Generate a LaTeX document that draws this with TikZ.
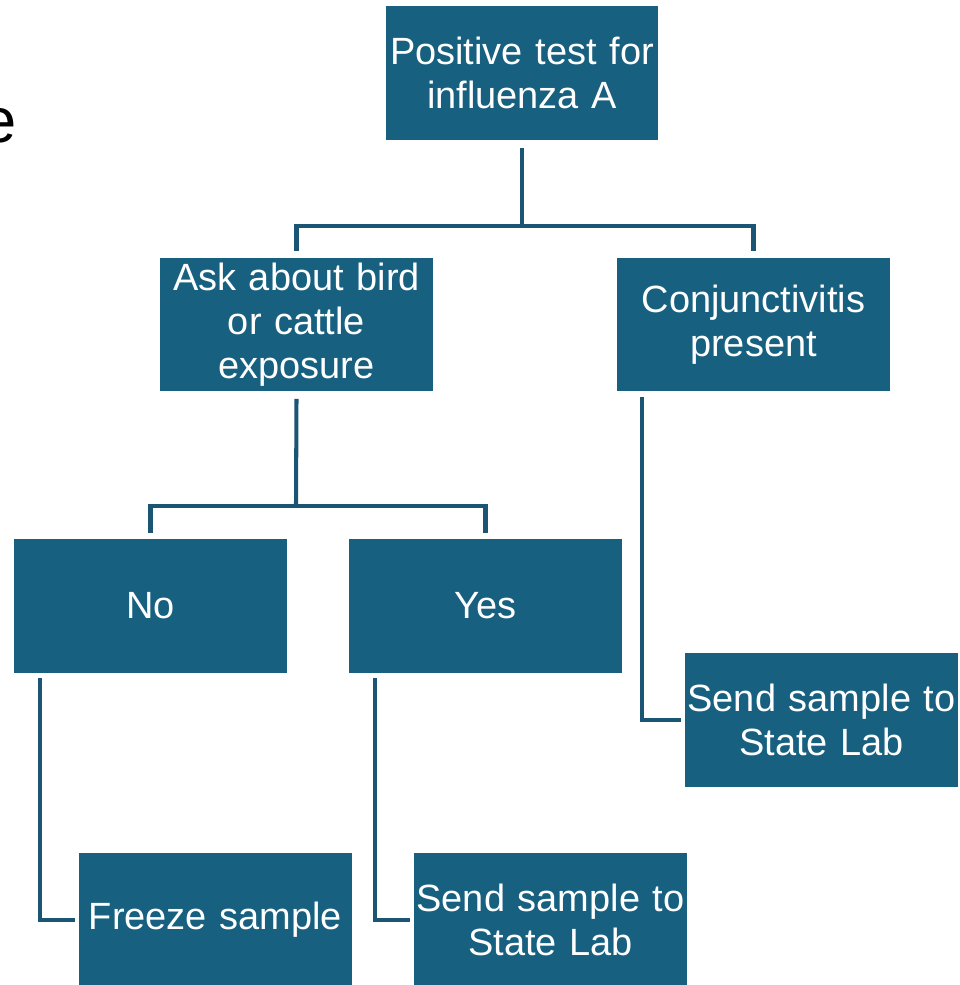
\documentclass[tikz,border=0pt]{standalone}
\usepackage{fontspec}
\setmainfont{Liberation Sans}
\usepackage{tikz}
\usetikzlibrary{positioning,calc}
\definecolor{boxblue}{RGB}{23,96,128}
\definecolor{linkblue}{RGB}{26,86,116}
\tikzset{
  flowbox/.style={rectangle,fill=boxblue,text=white,align=center,inner sep=0pt,
    minimum width=5.46cm,minimum height=2.68cm,text width=5.4cm,
    font=\fontsize{21.6}{25.2}\selectfont},
  link/.style={draw=linkblue,line width=2.3pt,line join=miter}
}
\begin{document}
\begin{tikzpicture}[x=0.02cm,y=-0.02cm]
  \clip (0,0) rectangle (960,985);
  \node[anchor=base east,inner sep=0pt,font=\fontsize{36}{40}\selectfont] (title) at (17,142) {e};
  \node[flowbox] (top) at (522,73) {Positive test for\\influenza A};
  \node[flowbox] (ask) at (296.5,324.5) {Ask about bird\\or cattle\\exposure};
  \node[flowbox] (conj) at (753.5,324.5) {Conjunctivitis\\present};
  \node[flowbox] (no) at (150.5,606) {No};
  \node[flowbox] (yes) at (485.5,606) {Yes};
  \node[flowbox] (sendr) at (821.5,720) {Send sample to\\State Lab};
  \node[flowbox] (freeze) at (215.5,920) {Freeze sample};
  \node[flowbox] (sendm) at (550.5,920) {Send sample to\\State Lab};
  \coordinate (j1) at (522,226);
  \coordinate (j2) at (296,506);
  \draw[link] ([yshift=-0.16cm]top.south) -- (j1);
  \draw[link] ([yshift=0.12cm]ask.north) |- (j1) -| ([yshift=0.12cm]conj.north);
  \draw[link] ([yshift=-0.14cm]ask.south) -- (j2);
  \draw[link] ([yshift=0.12cm]no.north) |- (j2) -| ([yshift=0.12cm]yes.north);
  \draw[link] ([xshift=0.5cm,yshift=-0.1cm]conj.south west) |- ([xshift=-0.08cm]sendr.west);
  \draw[link] ([xshift=0.52cm,yshift=-0.1cm]no.south west) |- ([xshift=-0.08cm]freeze.west);
  \draw[link] ([xshift=0.52cm,yshift=-0.1cm]yes.south west) |- ([xshift=-0.08cm]sendm.west);
\end{tikzpicture}
\end{document}
